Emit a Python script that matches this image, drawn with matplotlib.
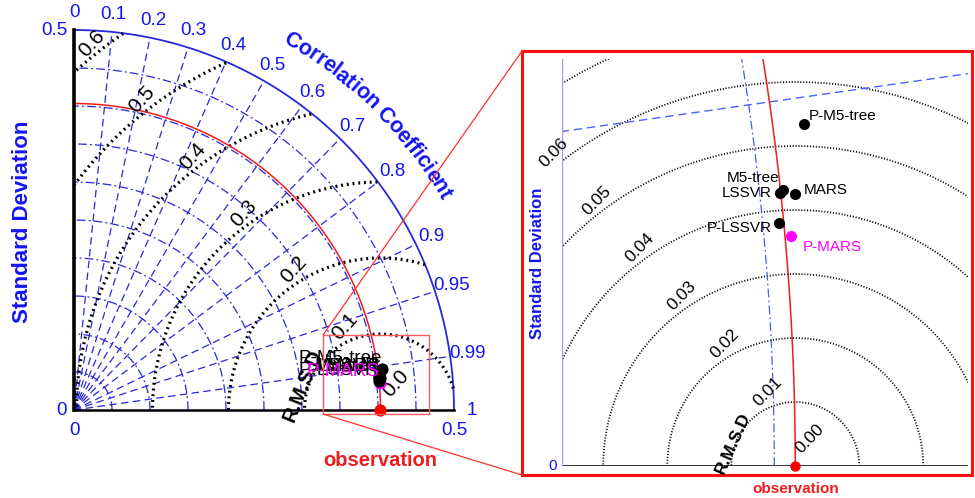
import numpy as np
import matplotlib
matplotlib.use("Agg")
import matplotlib.pyplot as plt
from matplotlib.patches import Rectangle, ConnectionPatch
from matplotlib import transforms
from matplotlib.textpath import TextToPath
from matplotlib.font_manager import FontProperties

plt.rcParams['font.family'] = ['Liberation Sans', 'DejaVu Sans']

# ---------------- data ----------------
models = ["M5-tree", "LSSVR", "MARS", "P-M5-tree", "P-LSSVR", "P-MARS"]
model_std = [0.40372, 0.40315, 0.40551, 0.40819, 0.40249, 0.40416]
model_corr = [0.99428, 0.99440, 0.99450, 0.99141, 0.99553, 0.99604]
model_colors = ["black", "black", "black", "black", "black", "magenta"]
obs_std = 0.40328

corr_ticks = [0, 0.1, 0.2, 0.3, 0.4, 0.5, 0.6, 0.7, 0.8, 0.9, 0.95, 0.99, 1]
corr_tick_labels = ["0", "0.1", "0.2", "0.3", "0.4", "0.5", "0.6", "0.7",
                    "0.8", "0.9", "0.95", "0.99", "1"]
corr_grid = [0.1, 0.2, 0.3, 0.4, 0.5, 0.6, 0.7, 0.8, 0.9, 0.95, 0.99]
std_grid = [0.05, 0.1, 0.15, 0.2, 0.25, 0.3, 0.35, 0.4, 0.45]
std_max = 0.5
std_tick_labels = ["0", "0.5"]

rms_main = [0.1, 0.2, 0.3, 0.4, 0.5, 0.6]
rms_main_label_levels = [0.0, 0.1, 0.2, 0.3, 0.4, 0.5, 0.6]
rms_main_labels = ["0.0", "0.1", "0.2", "0.3", "0.4", "0.5", "0.6"]

rms_zoom = [0.01, 0.02, 0.03, 0.04, 0.05, 0.06, 0.07]
rms_zoom_label_levels = [0.0, 0.01, 0.02, 0.03, 0.04, 0.05, 0.06]
rms_zoom_labels = ["0.00", "0.01", "0.02", "0.03", "0.04", "0.05", "0.06"]

zoom_box_x = (0.3276, 0.4671)
zoom_box_y = (-0.0053, 0.0987)
zoom_view_x = (0.36688, 0.43027)
zoom_view_y = (0.0, 0.06355)

# label offsets in the zoom panel (pixels, alignment)
zoom_label_style = {"M5-tree": (-4, 12, "right"), "LSSVR": (-8, 0, "right"),
                    "MARS": (8, 4, "left"), "P-M5-tree": (5, 8, "left"),
                    "P-LSSVR": (-7, -5, "right"), "P-MARS": (12, -11, "left")}

BLUE_T = "#1414f0"
BLUE_L = "#2828d8"
RED = "#ee1c1c"


def to_xy(s, c):
    s = np.asarray(s, float); c = np.asarray(c, float)
    return s * c, s * np.sqrt(1 - c ** 2)


fig = plt.figure(figsize=(9.75, 4.98), dpi=100)

# ---------------- main Taylor diagram ----------------
ax = fig.add_axes([0, 0, 500 / 975, 1])
ax.set_xlim(-74 / 760, (500 - 74) / 760)
ax.set_ylim((410 - 498) / 760, 410 / 760)
ax.axis("off")

th = np.linspace(0, np.pi / 2, 400)
for s in std_grid:
    ax.plot(s * np.cos(th), s * np.sin(th), color=BLUE_L, lw=0.9,
            ls=(0, (7, 2.5, 1.5, 2.5)))
ax.plot(std_max * np.cos(th), std_max * np.sin(th), color=BLUE_L, lw=1.3)
for c in corr_grid:
    x, y = to_xy(std_max, c)
    ax.plot([0, x], [0, y], color=BLUE_L, lw=0.9, ls=(0, (6, 3.5)))

tt = np.linspace(0, np.pi, 800)
for r in rms_main:
    x = obs_std + r * np.cos(tt)
    y = r * np.sin(tt)
    m = (x ** 2 + y ** 2 <= std_max ** 2) & (x >= 0)
    x = np.where(m, x, np.nan); y = np.where(m, y, np.nan)
    ax.plot(x, y, color="black", lw=2.3, ls=(0, (0.6, 1.2)))

ax.plot(obs_std * np.cos(th), obs_std * np.sin(th), color=RED, lw=1.1)
ax.plot([0, 0], [0, std_max], color="black", lw=2.6)
ax.plot([0, std_max], [0, 0], color="black", lw=1.8)

for c, lab in zip(corr_ticks, corr_tick_labels):
    a = np.arccos(c)
    ax.text(0.523 * np.cos(a), 0.523 * np.sin(a), lab, ha="center",
            va="center", color=BLUE_T, fontsize=13.5)
ax.text(-0.0092, std_max, std_tick_labels[1], ha="right", va="center",
        color=BLUE_T, fontsize=13.5)
ax.text(-0.0092, 0, std_tick_labels[0], ha="right", va="center",
        color=BLUE_T, fontsize=13.5)
ax.text(0, -0.0276, std_tick_labels[0], ha="center", va="center",
        color=BLUE_T, fontsize=13.5)
ax.text(std_max, -0.0276, std_tick_labels[1], ha="center", va="center",
        color=BLUE_T, fontsize=13.5)

ax.text(-0.0678, 0.248, "Standard Deviation", rotation=90, ha="center",
        va="center", color=BLUE_T, fontsize=16, fontweight="bold")
ax.text(obs_std, -0.0658, "observation", ha="center", va="center",
        color=RED, fontsize=14.5, fontweight="bold")

# curved "Correlation Coefficient"
title = "Correlation Coefficient"
cc_size = 15.5
fp = FontProperties(family="Liberation Sans", weight="bold", size=cc_size)
t2p = TextToPath()
widths = []
for ch in title:
    w = t2p.get_text_width_height_descent(ch, fp, ismath=False)[0]
    widths.append(w if w > 0 else 0.278 * cc_size)
widths = np.array(widths)
centers = np.cumsum(widths) - widths / 2
a0, a1 = 59.4, 30.2
angs = a0 - (centers - centers[0]) / (centers[-1] - centers[0]) * (a0 - a1)
r_base = 0.556
for ch, a in zip(title, angs):
    ar = np.deg2rad(a)
    ax.text(r_base * np.cos(ar), r_base * np.sin(ar), ch, rotation=a - 90,
            rotation_mode="anchor", ha="center", va="baseline",
            color=BLUE_T, fontsize=cc_size, fontweight="bold")

# RMS labels along a line
d_ang = np.deg2rad(131.8)
tr_lab = transforms.offset_copy(ax.transData, fig=fig, x=15, y=27, units="dots")
for v, lab in zip(rms_main_label_levels, rms_main_labels):
    ax.text(obs_std + v * np.cos(d_ang), v * np.sin(d_ang), lab,
            transform=tr_lab, rotation=48, ha="center", va="center",
            fontsize=15, color="black")
tr_rmsd = transforms.offset_copy(ax.transData, fig=fig, x=-78, y=24, units="dots")
ax.text(obs_std, 0, "R.M.S.D", transform=tr_rmsd, rotation=68, ha="center",
        va="center", fontsize=14.5, fontweight="bold", color="black")

# points in main
mx, my = to_xy(model_std, model_corr)
order = [5, 0, 1, 2, 3, 4]
for i in order:
    ax.plot(mx[i], my[i], "o", color=model_colors[i], ms=8.8, mec="none", zorder=5)
tr_pl = transforms.offset_copy(ax.transData, fig=fig, x=0, y=11, units="dots")
for i in range(len(models)):
    ax.text(mx[i], my[i], models[i], transform=tr_pl, ha="right", va="center",
            fontsize=13.5, color=model_colors[i], zorder=6)
ax.plot(obs_std, 0, "o", color="#ff0000", ms=8.8, mec="none", zorder=6)

ax.add_patch(Rectangle((zoom_box_x[0], zoom_box_y[0]),
                       zoom_box_x[1] - zoom_box_x[0],
                       zoom_box_y[1] - zoom_box_y[0],
                       fill=False, ec="#ff5a5a", lw=1.0, zorder=7))

# ---------------- zoom panel ----------------
axz = fig.add_axes([522 / 975, (498 - 475) / 498, 450 / 975, 424 / 498])
px_unit = 6400
axz.set_xlim(zoom_view_x[0] - (562.3 - 522) / px_unit,
             zoom_view_x[1] + (972 - 968) / px_unit)
axz.set_ylim(zoom_view_y[0] - 9 / px_unit,
             zoom_view_y[1] + (59.3 - 51) / px_unit)
axz.set_xticks([]); axz.set_yticks([])
for sp in axz.spines.values():
    sp.set_color("#ff1010"); sp.set_linewidth(2.2)

clip = Rectangle((zoom_view_x[0], zoom_view_y[0]),
                 zoom_view_x[1] - zoom_view_x[0],
                 zoom_view_y[1] - zoom_view_y[0],
                 transform=axz.transData, fill=False, lw=0)


def zplot(*a, **k):
    lines = axz.plot(*a, **k)
    for ln in lines:
        ln.set_clip_path(clip)
    return lines


tt2 = np.linspace(0, np.pi, 1500)
for r in rms_zoom:
    zplot(obs_std + r * np.cos(tt2), r * np.sin(tt2), color="black", lw=1.3,
          ls=(0, (0.6, 1.0)))
th2 = np.linspace(0, np.pi / 2, 4000)
for s in std_grid:
    zplot(s * np.cos(th2), s * np.sin(th2), color="#4a5cf0", lw=0.9,
          ls=(0, (7, 2.5, 1.5, 2.5)))
for c in corr_grid:
    x, y = to_xy(std_max, c)
    zplot([0, x], [0, y], color="#4a64f5", lw=1.0, ls=(0, (6, 3.5)))
zplot(obs_std * np.cos(th2), obs_std * np.sin(th2), color=RED, lw=1.1)
zplot([zoom_view_x[0], zoom_view_x[1]], [0, 0], color="#333333", lw=1.4)
zplot([zoom_view_x[0], zoom_view_x[0]], [0, zoom_view_y[1]], color="#9c9cff", lw=1.0)

trz = transforms.offset_copy(axz.transData, fig=fig, x=15, y=27, units="dots")
for v, lab in zip(rms_zoom_label_levels, rms_zoom_labels):
    axz.text(obs_std + v * np.cos(d_ang), v * np.sin(d_ang), lab,
             transform=trz, rotation=46, ha="center", va="center",
             fontsize=12.5, color="black")
trz2 = transforms.offset_copy(axz.transData, fig=fig, x=-62, y=23, units="dots")
axz.text(obs_std, 0, "R.M.S.D", transform=trz2, rotation=66, ha="center",
         va="center", fontsize=12.5, fontweight="bold", color="black")

for i in range(len(models)):
    axz.plot(mx[i], my[i], "o", color=model_colors[i], ms=8, mec="none", zorder=5)
    dx, dy, ha = zoom_label_style[models[i]]
    trp = transforms.offset_copy(axz.transData, fig=fig, x=dx, y=dy, units="dots")
    axz.text(mx[i], my[i], models[i], transform=trp, ha=ha, va="center",
             fontsize=11, color=model_colors[i], zorder=6)
axz.plot(obs_std, 0, "o", color="#ff0000", ms=7.5, mec="none", zorder=6)

trz0 = transforms.offset_copy(axz.transData, fig=fig, x=-5, y=0, units="dots")
axz.text(zoom_view_x[0], 0, "0", transform=trz0, ha="right", va="center",
         color=BLUE_T, fontsize=11)
axz.text(zoom_view_x[0] - 25.3 / px_unit, 0.03164, "Standard Deviation",
         rotation=90, ha="center", va="center", color=BLUE_T, fontsize=12,
         fontweight="bold")
axz.text(obs_std, -23 / px_unit, "observation", ha="center", va="center",
         color=RED, fontsize=11, fontweight="bold", clip_on=False)

# connectors
for (yb, yf) in [(zoom_box_y[1], 1.0), (zoom_box_y[0], 0.0)]:
    con = ConnectionPatch(xyA=(zoom_box_x[0], yb), coordsA=ax.transData,
                          xyB=(0.0, yf), coordsB=axz.transAxes,
                          color="#ff3030", lw=0.9)
    fig.add_artist(con)

fig.savefig("out.png", dpi=100)
